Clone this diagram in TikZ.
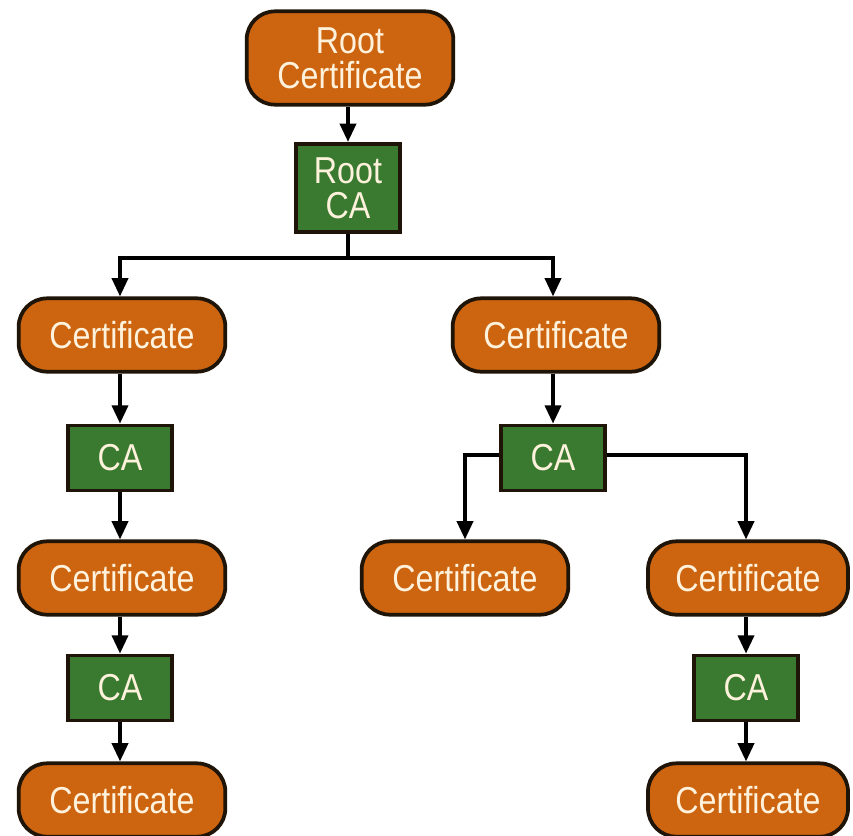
\documentclass[tikz,border=0pt]{standalone}
\usepackage{fontspec}
\setmainfont{Liberation Sans}[FakeStretch=0.86]
\usepackage{tikz}
\usetikzlibrary{arrows.meta, positioning, calc}
\definecolor{certOrange}{HTML}{CC6410}
\definecolor{caGreen}{HTML}{3A7A30}
\definecolor{edgeDark}{HTML}{1E1408}
\definecolor{labelCream}{HTML}{FFF2DC}
\tikzset{
    certbox/.style={draw=edgeDark, line width=3.2pt, fill=certOrange, rounded corners=0.85cm,
        minimum width=6.2cm, minimum height=2.2cm, text=labelCream, align=center,
        font=\fontsize{32}{35}\selectfont},
    cabox/.style={draw=edgeDark, line width=3.2pt, fill=caGreen,
        minimum width=3.1cm, minimum height=1.95cm, text=labelCream, align=center,
        font=\fontsize{32}{35}\selectfont},
    arr/.style={line width=3.2pt, -{Triangle[length=0.55cm, width=0.48cm]}}
}

\begin{document}
\begin{tikzpicture}[x=0.03cm, y=-0.03cm]
        \useasboundingbox (0,0) rectangle (853,835);
        \fill[white] (0,0) rectangle (853,835);

        % Root of the chain
        \node[certbox, minimum height=2.8cm] (rootcert) at (350,58) {Root\\[-5pt]Certificate};
        \node[cabox, minimum height=2.65cm] (rootca) at (348,188) {Root\\[-5pt]CA};
        \coordinate (split) at (348,258);

        % Left branch
        \node[certbox] (certL) at (122,335) {Certificate};
        \node[cabox] (caL) at (120,458) {CA};
        \node[certbox] (certL2) at (122,578) {Certificate};
        \node[cabox] (caL2) at (120,688) {CA};
        \node[certbox] (certL3) at (122,800) {Certificate};

        % Right branch
        \node[certbox] (certR) at (556,335) {Certificate};
        \node[cabox] (caR) at (553,458) {CA};
        \node[certbox] (certM) at (465,578) {Certificate};
        \node[certbox, minimum width=6.0cm] (certR2) at (748,578) {Certificate};
        \node[cabox] (caR2) at (746,688) {CA};
        \node[certbox, minimum width=6.0cm] (certR3) at (748,800) {Certificate};

        % Connectors
        \draw[arr] (rootcert.south -| rootca) -- (rootca);
        \draw[line width=3.2pt] (rootca) -- (split);
        \draw[arr] (split) -| (caL |- certL.north);
        \draw[arr] (split) -| (caR |- certR.north);
        \draw[arr] (certL.south -| caL) -- (caL);
        \draw[arr] (caL) -- (caL |- certL2.north);
        \draw[arr] (certL2.south -| caL2) -- (caL2);
        \draw[arr] (caL2) -- (caL2 |- certL3.north);
        \draw[arr] (certR.south -| caR) -- (caR);
        \draw[arr] ([yshift=0.1cm]caR.west) -| (certM);
        \draw[arr] ([yshift=0.1cm]caR.east) -| (caR2 |- certR2.north);
        \draw[arr] (certR2.south -| caR2) -- (caR2);
        \draw[arr] (caR2) -- (caR2 |- certR3.north);

    \end{tikzpicture}
\end{document}
